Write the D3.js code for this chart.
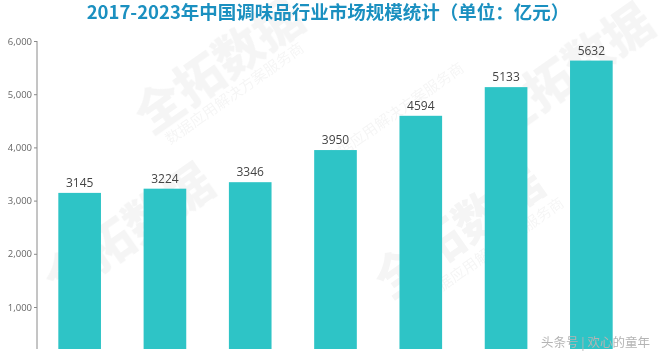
<!DOCTYPE html>
<html><head><meta charset="utf-8">
<script src="https://cdn.jsdelivr.net/npm/d3@7/dist/d3.min.js"></script>
<style>html,body{margin:0;padding:0;background:#fff;}svg{display:block;}</style>
</head><body><svg id="c" width="660" height="356"></svg>
<script>
const years = ["2017","2018","2019","2020","2021","2022","2023"];
const values = [3145, 3224, 3346, 3950, 4594, 5133, 5632];
const yTicks = [1000, 2000, 3000, 4000, 5000, 6000];
const titleText = "2017-2023年中国调味品行业市场规模统计（单位：亿元）";
const sourceText = "头条号 | 欢心的童年";
const watermarkBig = "全拓数据";
const watermarkSmall = "数据应用解决方案服务商";

const svg = d3.select("#c");
const W = 660, H = 356, plotBottom = 349;
const x = d3.scaleBand().domain(years).range([37, 634]).paddingInner(0.5).paddingOuter(0.25);
const y = d3.scaleLinear().domain([0, 6000]).range([360.2, 41]);

svg.append("defs").append("clipPath").attr("id", "plot")
  .append("rect").attr("x", 0).attr("y", 0).attr("width", W).attr("height", plotBottom);

// watermarks
const wm = svg.append("g").attr("fill", "#000").attr("opacity", 0.04)
  .style("font-family", "'Noto Sans CJK SC', sans-serif").style("font-weight", 900);
const bigPos = [[150,135],[500,140],[60,300],[390,300]];
bigPos.forEach(p => {
  wm.append("text").attr("transform", `translate(${p[0]},${p[1]}) rotate(-35)`)
    .attr("font-size", 48).text(watermarkBig);
});
const smallPos = [[170,145],[330,165],[430,300]];
smallPos.forEach(p => {
  wm.append("text").attr("transform", `translate(${p[0]},${p[1]}) rotate(-35)`)
    .attr("font-size", 15).style("font-weight", 400).text(watermarkSmall);
});

// axis
const axis = d3.axisLeft(y).tickValues(yTicks).tickSize(3).tickPadding(2).tickFormat(d3.format(","));
const ag = svg.append("g").attr("transform", "translate(37,0)").call(axis);
ag.select(".domain").attr("stroke", "#8a8a8a").attr("d", `M0,${y(6000)}V${plotBottom}`);
ag.selectAll(".tick line").attr("stroke", "#8a8a8a");
ag.selectAll(".tick text").attr("fill", "#666").attr("font-size", 9.5)
  .style("font-family", "'Open Sans', sans-serif");

// bars
svg.append("g").attr("clip-path", "url(#plot)").selectAll("rect").data(values).join("rect")
  .attr("x", (d,i) => x(years[i])).attr("width", x.bandwidth())
  .attr("y", d => y(d)).attr("height", d => y(0) - y(d))
  .attr("fill", "#2ec4c6");

svg.append("g").selectAll("text").data(values).join("text")
  .attr("x", (d,i) => x(years[i]) + x.bandwidth()/2).attr("y", d => y(d) - 6)
  .attr("text-anchor", "middle").attr("fill", "#444").attr("font-size", 12)
  .style("font-family", "'Open Sans', sans-serif").text(d => d);

// title
svg.append("text").attr("x", 328).attr("y", 18.5).attr("text-anchor", "middle")
  .attr("fill", "#1b90c0").attr("font-size", 18.5).attr("font-weight", "bold")
  .style("font-family", "'Noto Sans CJK SC', sans-serif").text(titleText);

// source
svg.append("text").attr("x", 541).attr("y", 347).attr("fill", "#b4b4b4")
  .attr("font-size", 12.5).style("font-family", "'Noto Sans CJK SC', sans-serif")
  .text(sourceText);
</script></body></html>
